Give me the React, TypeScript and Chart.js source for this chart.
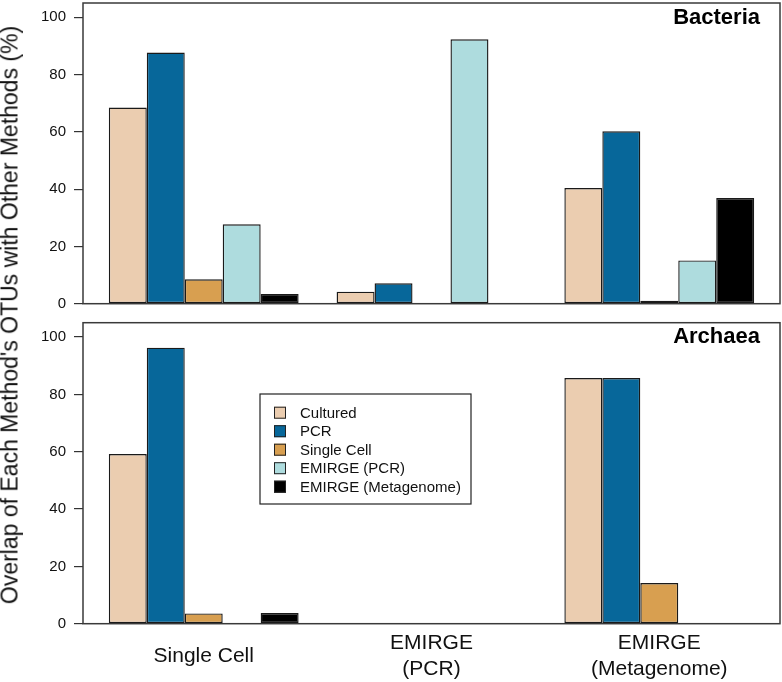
import React, { useEffect, useRef } from "react";
import { Chart, registerables } from "chart.js";

Chart.register(...registerables);

const FONT = "'Liberation Sans', Arial, Helvetica, sans-serif";

const groupLabels: string[][] = [["Single Cell"], ["EMIRGE", "(PCR)"], ["EMIRGE", "(Metagenome)"]];
const groupPositions = [3.5, 9.5, 15.5];
const methods = ["Cultured", "PCR", "Single Cell", "EMIRGE (PCR)", "EMIRGE (Metagenome)"];
const colors = ["#EBCDB0", "#07679A", "#D89F50", "#AEDCDE", "#000000"];
const yTicks = [0, 20, 40, 60, 80, 100];

// Bacteria panel
const bacteriaCultured = [68.5, 4.2, 40.4];
const bacteriaPCR = [87.7, 7.1, 60.2];
const bacteriaSingleCell = [8.5, 0, 1.0];
const bacteriaEmirgePCR = [27.7, 92.3, 15.1];
const bacteriaEmirgeMeta = [3.4, 0, 36.9];

// Archaea panel
const archaeaCultured = [59.2, 0, 85.7];
const archaeaPCR = [96.3, 0, 85.7];
const archaeaSingleCell = [3.6, 0, 14.2];
const archaeaEmirgePCR = [0, 0, 0];
const archaeaEmirgeMeta = [3.7, 0, 0];

const bacteriaSeries = [bacteriaCultured, bacteriaPCR, bacteriaSingleCell, bacteriaEmirgePCR, bacteriaEmirgeMeta];
const archaeaSeries = [archaeaCultured, archaeaPCR, archaeaSingleCell, archaeaEmirgePCR, archaeaEmirgeMeta];

function makeDatasets(series: number[][]) {
  return series.map((vals, i) => ({
    label: methods[i],
    data: groupPositions.map((x, j) => ({ x, y: vals[j] })),
    backgroundColor: colors[i],
    borderColor: "#1a1a1a",
    borderWidth: 1.4,
    borderSkipped: false as any,
    categoryPercentage: 5 / 6,
    barPercentage: 1,
  }));
}

function framePlugin(title: string, titleY: number, legend: boolean) {
  return {
    id: "frame-" + title,
    afterDraw(chart: any) {
      const { ctx, chartArea } = chart;
      ctx.save();
      ctx.strokeStyle = "#3a3a3a";
      ctx.lineWidth = 1.5;
      ctx.strokeRect(chartArea.left, chartArea.top, chartArea.right - chartArea.left, chartArea.bottom - chartArea.top);
      ctx.fillStyle = "#000";
      ctx.font = `bold 22px ${FONT}`;
      ctx.textAlign = "right";
      ctx.textBaseline = "middle";
      ctx.fillText(title, 760, titleY);
      if (legend) {
        const bx = 260, by = 84, bw = 211, bh = 110;
        ctx.fillStyle = "#fff";
        ctx.fillRect(bx, by, bw, bh);
        ctx.strokeStyle = "#222";
        ctx.lineWidth = 1.2;
        ctx.strokeRect(bx, by, bw, bh);
        ctx.font = `15px ${FONT}`;
        ctx.textAlign = "left";
        ctx.textBaseline = "middle";
        methods.forEach((m, i) => {
          const cy = 102.7 + i * 18.5;
          ctx.fillStyle = colors[i];
          ctx.fillRect(274, cy - 6, 12, 12);
          ctx.strokeStyle = "#222";
          ctx.lineWidth = 1;
          ctx.strokeRect(274.5, cy - 5.5, 11, 11);
          ctx.fillStyle = "#111";
          ctx.fillText(m, 300, cy + 1);
        });
      }
      ctx.restore();
    },
  };
}

function makeConfig(series: number[][], title: string, titleY: number, bottom: boolean, legend: boolean, padding: any, xHeight: number): any {
  return {
    type: "bar",
    data: { datasets: makeDatasets(series) },
    options: {
      animation: false,
      responsive: false,
      devicePixelRatio: 1,
      layout: { padding },
      plugins: { legend: { display: false }, tooltip: { enabled: false }, title: { display: false } },
      scales: {
        x: {
          type: "linear",
          min: 0.32,
          max: 18.68,
          offset: false,
          afterBuildTicks: (scale: any) => {
            scale.ticks = groupPositions.map((v) => ({ value: v }));
          },
          afterFit: (scale: any) => {
            scale.height = xHeight;
            scale.paddingLeft = 0;
            scale.paddingRight = 0;
          },
          grid: { display: false, drawTicks: false },
          border: { display: false },
          ticks: {
            display: bottom,
            autoSkip: false,
            maxRotation: 0,
            minRotation: 0,
            padding: 20,
            crossAlign: "center",
            color: "#111",
            font: { family: FONT, size: 21, lineHeight: 1.2 },
            callback: (_v: any, i: number) => groupLabels[i],
          },
        },
        y: {
          min: 0,
          max: 105,
          afterBuildTicks: (scale: any) => {
            scale.ticks = yTicks.map((v) => ({ value: v }));
          },
          afterFit: (scale: any) => {
            scale.width = 83;
            scale.paddingTop = 0;
            scale.paddingBottom = 0;
          },
          grid: { display: true, drawOnChartArea: false, drawTicks: true, tickLength: 9, tickColor: "#333", lineWidth: 1.2 },
          border: { display: false },
          ticks: {
            padding: 8,
            color: "#111",
            font: { family: FONT, size: 15 },
          },
        },
      },
    },
    plugins: [framePlugin(title, titleY, legend)],
  };
}

export default function App() {
  const topRef = useRef<HTMLCanvasElement>(null);
  const botRef = useRef<HTMLCanvasElement>(null);

  useEffect(() => {
    Chart.defaults.font.family = FONT;
    const top = new Chart(
      topRef.current as HTMLCanvasElement,
      makeConfig(bacteriaSeries, "Bacteria", 18, false, false, { top: 3, right: 2, bottom: 16.3, left: 0 }, 0)
    );
    const bot = new Chart(
      botRef.current as HTMLCanvasElement,
      makeConfig(archaeaSeries, "Archaea", 27, true, true, { top: 12.7, right: 2, bottom: 0, left: 0 }, 58.3)
    );
    return () => {
      top.destroy();
      bot.destroy();
    };
  }, []);

  return (
    <div style={{ position: "absolute", left: 0, top: 0, width: 782, height: 682, background: "#fff", overflow: "hidden" }}>
      <canvas ref={topRef} width={782} height={320} style={{ position: "absolute", left: 0, top: 0, width: 782, height: 320 }} />
      <canvas ref={botRef} width={782} height={372} style={{ position: "absolute", left: 0, top: 310, width: 782, height: 372 }} />
      <div
        style={{
          position: "absolute",
          left: 10,
          top: 315,
          transform: "translate(-50%, -50%) rotate(-90deg)",
          whiteSpace: "nowrap",
          fontFamily: FONT,
          fontSize: 23,
          color: "#111",
          lineHeight: 1,
        }}
      >
        Overlap of Each Method's OTUs with Other Methods (%)
      </div>
    </div>
  );
}
